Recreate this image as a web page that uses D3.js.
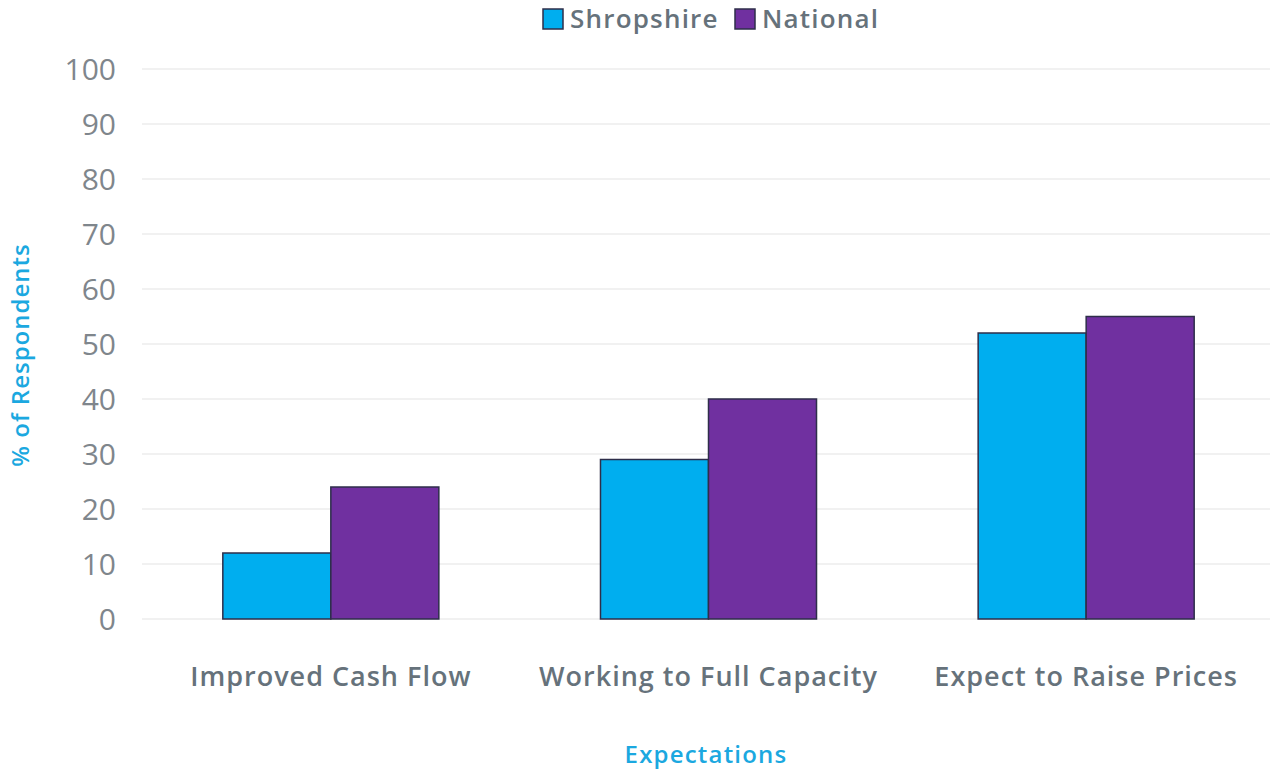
<!DOCTYPE html>
<html>
<head>
<meta charset="utf-8">
<script src="https://cdn.jsdelivr.net/npm/d3@7"></script>
<style>
  body { margin: 0; background: #fff; }
  text { font-family: "Open Sans", "Noto Sans", sans-serif; }
</style>
</head>
<body>
<svg id="chart"></svg>
<script>
// datos
const categories = ["Improved Cash Flow", "Working to Full Capacity", "Expect to Raise Prices"];
const seriesNames = ["Shropshire", "National"];
const shropshire = [12, 29, 52];
const national = [24, 40, 55];
const yTicks = [0, 10, 20, 30, 40, 50, 60, 70, 80, 90, 100];
const colors = ["#00AEEF", "#7030A0"];

const width = 1270, height = 769;
const margin = { left: 142, right: -5, top: 69, bottom: 150 };

const svg = d3.select("#chart").attr("width", width).attr("height", height);

const x = d3.scaleBand()
    .domain(categories)
    .range([margin.left, width - margin.right])
    .paddingInner(0.428)
    .paddingOuter(0.214);

const xSub = d3.scaleBand().domain(seriesNames).range([0, x.bandwidth()]);

const y = d3.scaleLinear().domain([0, 100]).range([height - margin.bottom, margin.top]);

// grid
svg.append("g")
    .selectAll("line")
    .data(yTicks)
    .join("line")
    .attr("x1", margin.left)
    .attr("x2", width)
    .attr("y1", d => y(d))
    .attr("y2", d => y(d))
    .attr("stroke", "#ececec")
    .attr("stroke-width", 1.5);

// y axis
const yAxis = svg.append("g")
    .attr("transform", `translate(${margin.left - 26},0)`)
    .call(d3.axisLeft(y).tickValues(yTicks).tickSize(0).tickPadding(0));
yAxis.select(".domain").remove();
yAxis.selectAll("text")
    .attr("fill", "#7f868c")
    .attr("font-size", 30)
    .attr("dy", "0.35em");

// bars
const rows = categories.map((c, i) => ({ cat: c, values: [shropshire[i], national[i]] }));
svg.append("g")
    .selectAll("g")
    .data(rows)
    .join("g")
    .attr("transform", d => `translate(${x(d.cat)},0)`)
    .selectAll("rect")
    .data(d => d.values.map((v, j) => ({ name: seriesNames[j], v, j })))
    .join("rect")
    .attr("x", d => xSub(d.name))
    .attr("width", xSub.bandwidth())
    .attr("y", d => y(d.v))
    .attr("height", d => y(0) - y(d.v))
    .attr("fill", d => colors[d.j])
    .attr("stroke", "#2e2e4a")
    .attr("stroke-width", 1.5);

// x axis labels
const xAxis = svg.append("g")
    .attr("transform", `translate(0,${y(0) + 48})`)
    .call(d3.axisBottom(x).tickSize(0).tickPadding(0));
xAxis.select(".domain").remove();
xAxis.selectAll("text")
    .attr("fill", "#66727b")
    .attr("font-size", 27)
    .attr("font-weight", 600)
    .attr("letter-spacing", 1);

// axis titles
svg.append("text")
    .attr("x", (margin.left + width) / 2)
    .attr("y", 763)
    .attr("text-anchor", "middle")
    .attr("fill", "#1ba8e0")
    .attr("font-size", 24)
    .attr("font-weight", 600)
    .attr("letter-spacing", 1.2)
    .text("Expectations");

svg.append("text")
    .attr("transform", `translate(29,${355}) rotate(-90)`)
    .attr("text-anchor", "middle")
    .attr("fill", "#1ba8e0")
    .attr("font-size", 24)
    .attr("font-weight", 600)
    .attr("letter-spacing", 1)
    .text("% of Respondents");

// legend
const legendX = [543, 735];
const legend = svg.append("g")
    .selectAll("g")
    .data(seriesNames)
    .join("g")
    .attr("transform", (d, i) => `translate(${legendX[i]},9)`);
legend.append("rect")
    .attr("width", 20)
    .attr("height", 20)
    .attr("fill", (d, i) => colors[i])
    .attr("stroke", "#2e2e4a")
    .attr("stroke-width", 1.5);
legend.append("text")
    .attr("x", 27)
    .attr("y", 10)
    .attr("dy", "0.35em")
    .attr("fill", "#66727b")
    .attr("font-size", 26)
    .attr("font-weight", 600)
    .attr("letter-spacing", 1.2)
    .text(d => d);
</script>
</body>
</html>
